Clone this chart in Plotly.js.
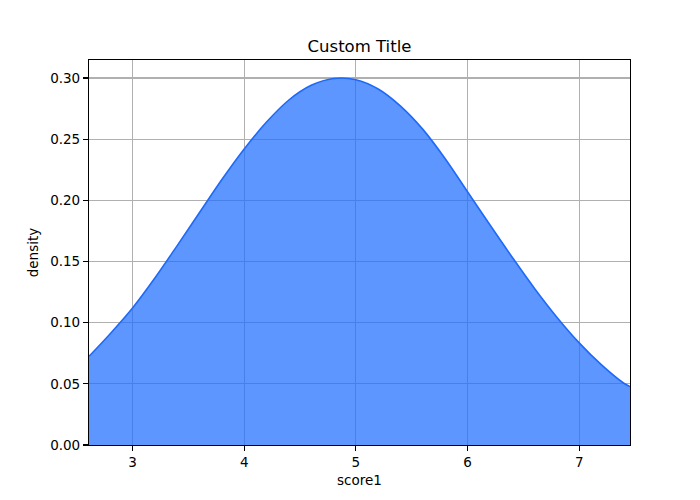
<!DOCTYPE html>
<html>
<head>
<meta charset="utf-8">
<script src="https://cdn.plot.ly/plotly-3.0.1.min.js"></script>
<style>
  body { margin: 0; background: #fff; }
  #chart { width: 700px; height: 500px; }
</style>
</head>
<body>
<div id="chart"></div>
<script>
// density curve
const scoreX = [2.61, 2.8, 3.0, 3.2, 3.4, 3.6, 3.8, 4.0, 4.2, 4.4, 4.6, 4.8,
                5.0, 5.2, 5.4, 5.6, 5.8, 6.0, 6.2, 6.4, 6.6, 6.8, 7.0, 7.2, 7.4, 7.455]
const density = [0.0725, 0.091, 0.112, 0.1365, 0.163, 0.190, 0.217, 0.242, 0.264, 0.282, 0.294, 0.2996,
                 0.2986, 0.291, 0.277, 0.258, 0.234, 0.207, 0.180, 0.1535, 0.128, 0.1045, 0.0835, 0.0655, 0.0505, 0.0477]
const yTicks = [0, 0.05, 0.10, 0.15, 0.20, 0.25, 0.30]
const xTicks = [3, 4, 5, 6, 7]

const font = 'DejaVu Sans, sans-serif'

const trace = {
  x: scoreX,
  y: density,
  type: 'scatter',
  mode: 'lines',
  fill: 'tozeroy',
  fillcolor: 'rgba(30, 110, 253, 0.72)',
  line: { color: 'rgb(31, 105, 250)', width: 1.6, shape: 'spline', smoothing: 1 },
  hoverinfo: 'x+y'
}

const axisBase = {
  showline: true,
  mirror: true,
  linecolor: '#000',
  linewidth: 1.1,
  ticks: 'outside',
  ticklen: 5,
  tickwidth: 1.1,
  tickcolor: '#000',
  showgrid: true,
  gridcolor: '#b0b0b0',
  gridwidth: 1.1,
  zeroline: false,
  tickfont: { family: font, size: 13.5, color: '#000' }
}

const layout = {
  width: 700,
  height: 500,
  margin: { l: 88.7, r: 69.7, t: 60.3, b: 55 },
  paper_bgcolor: '#fff',
  plot_bgcolor: '#fff',
  showlegend: false,
  title: {
    text: 'Custom Title',
    font: { family: font, size: 16.5, color: '#000' },
    x: 0.5, xref: 'paper', xanchor: 'center',
    y: 1 - 46 / 500, yref: 'container', yanchor: 'middle'
  },
  xaxis: Object.assign({}, axisBase, {
    range: [2.61, 7.455],
    tickvals: xTicks,
    ticktext: xTicks.map(v => String(v)),
    title: { text: 'score1', font: { family: font, size: 13.5, color: '#000' }, standoff: 6 }
  }),
  yaxis: Object.assign({}, axisBase, {
    range: [0, 0.3147],
    tickvals: yTicks,
    ticktext: yTicks.map(v => v.toFixed(2)),
    title: { text: 'density', font: { family: font, size: 13.5, color: '#000' }, standoff: 8 }
  })
}

Plotly.newPlot('chart', [trace], layout, { displayModeBar: false, staticPlot: true })
</script>
</body>
</html>
